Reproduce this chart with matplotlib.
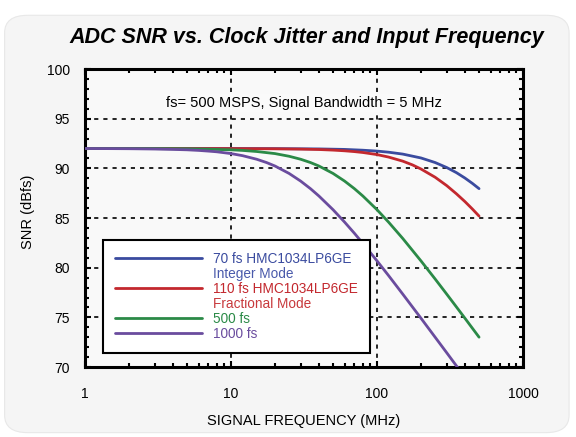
import matplotlib
matplotlib.use("Agg")
import matplotlib.pyplot as plt
from matplotlib.patches import FancyBboxPatch
from matplotlib.lines import Line2D
from matplotlib.ticker import MultipleLocator, LogLocator, NullFormatter

plt.rcParams['font.family'] = ['Liberation Sans', 'DejaVu Sans']

# signal frequency (MHz) and SNR (dBfs)
freq_70 = [1, 10, 20, 40, 60, 80, 100, 120, 150, 200, 250, 300, 350, 400, 450, 500]
snr_70 = [92.0, 92.0, 91.99, 91.96, 91.91, 91.83, 91.74, 91.63, 91.44, 91.05, 90.59,
          90.09, 89.57, 89.03, 88.49, 87.96]

freq_110 = [1, 10, 20, 30, 40, 50, 60, 70, 80, 100, 120, 150, 175, 200, 250, 300, 350,
            400, 450, 500]
snr_110 = [92.0, 91.99, 91.97, 91.94, 91.90, 91.84, 91.77, 91.69, 91.60, 91.39, 91.14,
           90.73, 90.35, 89.94, 89.11, 88.27, 87.44, 86.66, 85.91, 85.20]

freq_500 = [1, 3, 5, 7, 10, 12, 15, 20, 25, 30, 35, 40, 50, 60, 70, 80, 100, 120, 150,
            200, 250, 300, 350, 400, 450, 500]
snr_500 = [92.0, 91.99, 91.97, 91.93, 91.87, 91.81, 91.70, 91.49, 91.22, 90.92, 90.59,
           90.24, 89.49, 88.72, 87.96, 87.22, 85.84, 84.59, 82.95, 80.69, 78.87, 77.35,
           76.05, 74.92, 73.91, 73.01]

freq_1000 = [1, 1.5, 2, 3, 4, 5, 6, 7, 8, 10, 12, 15, 17.5, 20, 25, 30, 35, 40, 50, 60,
             70, 80, 100, 120, 150, 200, 250, 300, 350, 400]
snr_1000 = [92.0, 91.99, 91.98, 91.95, 91.91, 91.87, 91.81, 91.74, 91.67, 91.49, 91.28,
            90.92, 90.59, 90.24, 89.49, 88.72, 87.96, 87.22, 85.84, 84.59, 83.47, 82.45,
            80.69, 79.21, 77.35, 74.92, 73.01, 71.45, 70.12, 68.96]

series = [
    (freq_70, snr_70, "#3a4b9f", "70 fs HMC1034LP6GE", "Integer Mode", "#4a5aab"),
    (freq_110, snr_110, "#c3282e", "110 fs HMC1034LP6GE", "Fractional Mode", "#c8393c"),
    (freq_500, snr_500, "#2b8a47", "500 fs", None, None),
    (freq_1000, snr_1000, "#6a4c9e", "1000 fs", None, None),
]

fig = plt.figure(figsize=(5.76, 4.37), dpi=100, facecolor="white")
panel = FancyBboxPatch((0.008, 0.01), 0.98, 0.955, boxstyle="round,pad=0,rounding_size=0.04",
                       transform=fig.transFigure, facecolor="#f5f5f5", edgecolor="#e8e8e8",
                       lw=0.8, zorder=-10)
fig.patches.append(panel)

ax = fig.add_axes([0.1476, 0.160, 0.7604, 0.682])
ax.set_facecolor("#f9f9f9")

handles, labels, colors = [], [], []
for f, s, c, lab, sub, subc in series:
    ln, = ax.plot(f, s, color=c, lw=2.0, solid_capstyle="round", solid_joinstyle="round",
                  zorder=3)
    handles.append(ln)
    labels.append(lab)
    colors.append(c)
    if sub:
        handles.append(Line2D([], [], color="none"))
        labels.append(sub)
        colors.append(subc)

ax.set_xscale("log")
ax.set_xlim(1, 1000)
ax.set_ylim(70, 100)
ax.yaxis.set_major_locator(MultipleLocator(5))
ax.yaxis.set_minor_locator(MultipleLocator(1))
ax.xaxis.set_major_locator(LogLocator(base=10))
ax.xaxis.set_minor_locator(LogLocator(base=10, subs=range(2, 10)))
ax.xaxis.set_minor_formatter(NullFormatter())
ax.set_xticks([1, 10, 100, 1000])
ax.set_xticklabels(["1", "10", "100", "1000"])

ax.tick_params(which="both", direction="in", top=True, right=True, width=1.5, colors="black",
               labelsize=10)
ax.tick_params(which="major", length=4)
ax.tick_params(axis="x", which="major", pad=14)
ax.tick_params(axis="y", which="major", pad=11)
ax.tick_params(which="minor", length=3)
for sp in ax.spines.values():
    sp.set_linewidth(2.2)

ax.grid(True, which="major", color="black", ls=(0, (2.5, 3)), lw=1.2, zorder=1)

ax.set_xlabel("SIGNAL FREQUENCY (MHz)", fontsize=10.5, labelpad=10)
ax.set_ylabel("SNR (dBfs)", fontsize=10.5)
ax.yaxis.set_label_coords(-0.114, 0.52)

ax.text(0.5, 0.887, "fs= 500 MSPS, Signal Bandwidth = 5 MHz", transform=ax.transAxes,
        ha="center", va="center", fontsize=10.5,
        bbox=dict(facecolor="#fafafa", edgecolor="none", pad=1.5), zorder=4)

leg = ax.legend(handles, labels, loc="lower left", bbox_to_anchor=(0.04, 0.047),
                fontsize=9.8, handlelength=6.4, handletextpad=0.8, labelspacing=0.07,
                borderpad=0.9, borderaxespad=0, fancybox=False, framealpha=1,
                edgecolor="black", facecolor="white")
leg.get_frame().set_linewidth(1.5)
leg.set_zorder(5)
for t, c in zip(leg.get_texts(), colors):
    t.set_color(c)

fig.text(0.532, 0.914, "ADC SNR vs. Clock Jitter and Input Frequency", ha="center", va="center",
         fontsize=15.5, fontweight="bold", fontstyle="italic")

fig.savefig("out.png", dpi=100, facecolor="white")
